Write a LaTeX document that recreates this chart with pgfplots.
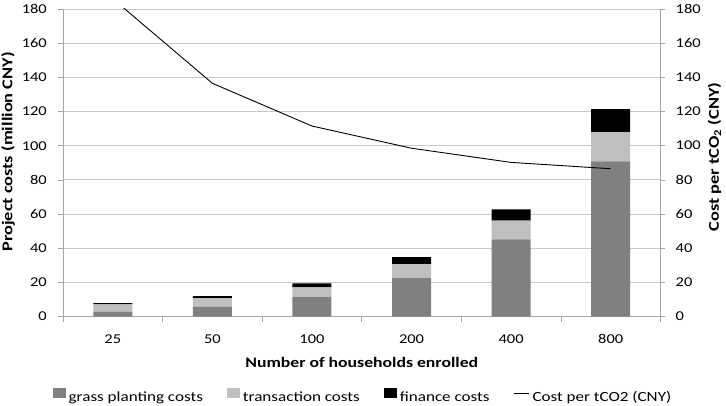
\documentclass[border=0pt]{standalone}
\usepackage{pgfplots}
\pgfplotsset{compat=1.18}
\usepackage{fontspec}
\setmainfont{Carlito}[FakeStretch=1.22]
\definecolor{grass}{HTML}{808080}
\definecolor{trans}{HTML}{BFBFBF}
\definecolor{axgray}{HTML}{A6A6A6}
\definecolor{gridgray}{HTML}{C8C8C8}
\begin{document}
\begin{tikzpicture}
\path[use as bounding box] (0,0) rectangle (726pt,405pt);
\begin{axis}[
  at={(63pt,88.5pt)}, anchor=south west,
  scale only axis, width=597.5pt, height=307.5pt,
  xmin=-0.5, xmax=5.5, ymin=0, ymax=180,
  axis x line*=bottom, axis y line*=left,
  axis line style={-, draw=axgray},
  ybar stacked, bar width=39pt,
  xtick={-0.5,0.5,...,5.5}, xticklabels={,,,,,,,},
  extra x ticks={0,1,2,3,4,5},
  extra x tick labels={25,50,100,200,400,800},
  extra x tick style={major tick length=0pt, xticklabel style={anchor=center, yshift=-22.5pt}},
  ytick={0,20,...,180},
  tick align=outside, major tick length=5pt,
  tick style={draw=axgray, line width=0.6pt},
  ymajorgrids, grid style={draw=gridgray, line width=0.8pt},
  /pgf/number format/assume math mode=true,
  tick label style={font=\fontsize{13.5}{15}\selectfont},
  yticklabel style={anchor=east, inner sep=0pt, xshift=-11pt},
  ylabel={\bfseries Project costs (million CNY)},
  ylabel style={at={(axis description cs:-0.092,0.535)}, anchor=center, font=\fontsize{15}{17}\selectfont},
  xlabel={\bfseries Number of households enrolled},
  xlabel style={at={(axis description cs:0.5,-0.148)}, anchor=center, font=\fontsize{14.5}{17}\selectfont},
  legend columns=4,
  legend style={draw=none, at={(axis description cs:0.5004,-0.2576)}, anchor=center,
    font=\fontsize{14}{16}\selectfont,
    nodes={inner sep=0pt},
    /tikz/every odd column/.append style={column sep=3pt},
    /tikz/every even column/.append style={column sep=24pt}},
  legend image code/.code={\fill[#1] (0pt,0pt) rectangle (13pt,9.5pt);},
]
\addplot[fill=grass, draw=none] coordinates {(0,2.7) (1,5.6) (2,11.3) (3,22.5) (4,45.1) (5,90.8)};
\addlegendentry{grass planting costs}
\addplot[fill=trans, draw=none] coordinates {(0,4.4) (1,5.1) (2,5.8) (3,8.2) (4,11.0) (5,17.1)};
\addlegendentry{transaction costs}
\addplot[fill=black, draw=none] coordinates {(0,0.8) (1,1.2) (2,2.3) (3,4.1) (4,6.6) (5,13.5)};
\addlegendentry{finance costs}
\addlegendimage{legend image code/.code={\draw[black, line width=0.9pt] (0pt,3.8pt) -- (15pt,3.8pt);}}
\addlegendentry{Cost per tCO2 (CNY)}
\end{axis}
\begin{axis}[
  at={(63pt,88.5pt)}, anchor=south west,
  scale only axis, width=597.5pt, height=307.5pt,
  xmin=-0.5, xmax=5.5, ymin=0, ymax=180,
  axis x line=none, axis y line*=right,
  axis line style={-, draw=axgray},
  ytick={0,20,...,180},
  tick align=outside, major tick length=5pt,
  tick style={draw=axgray, line width=0.6pt},
  /pgf/number format/assume math mode=true,
  tick label style={font=\fontsize{13.5}{15}\selectfont},
  yticklabel style={anchor=west, inner sep=0pt, xshift=10pt},
  ylabel={\bfseries Cost per tCO\textsubscript{2} (CNY)},
  ylabel style={at={(axis description cs:1.0904,0.519)}, anchor=center, font=\fontsize{15}{17}\selectfont},
]
\addplot[black, line width=0.9pt, mark=none] coordinates {(0,186) (1,136.5) (2,111.5) (3,98.5) (4,90.2) (5,86.5)};
\end{axis}
\end{tikzpicture}
\end{document}
